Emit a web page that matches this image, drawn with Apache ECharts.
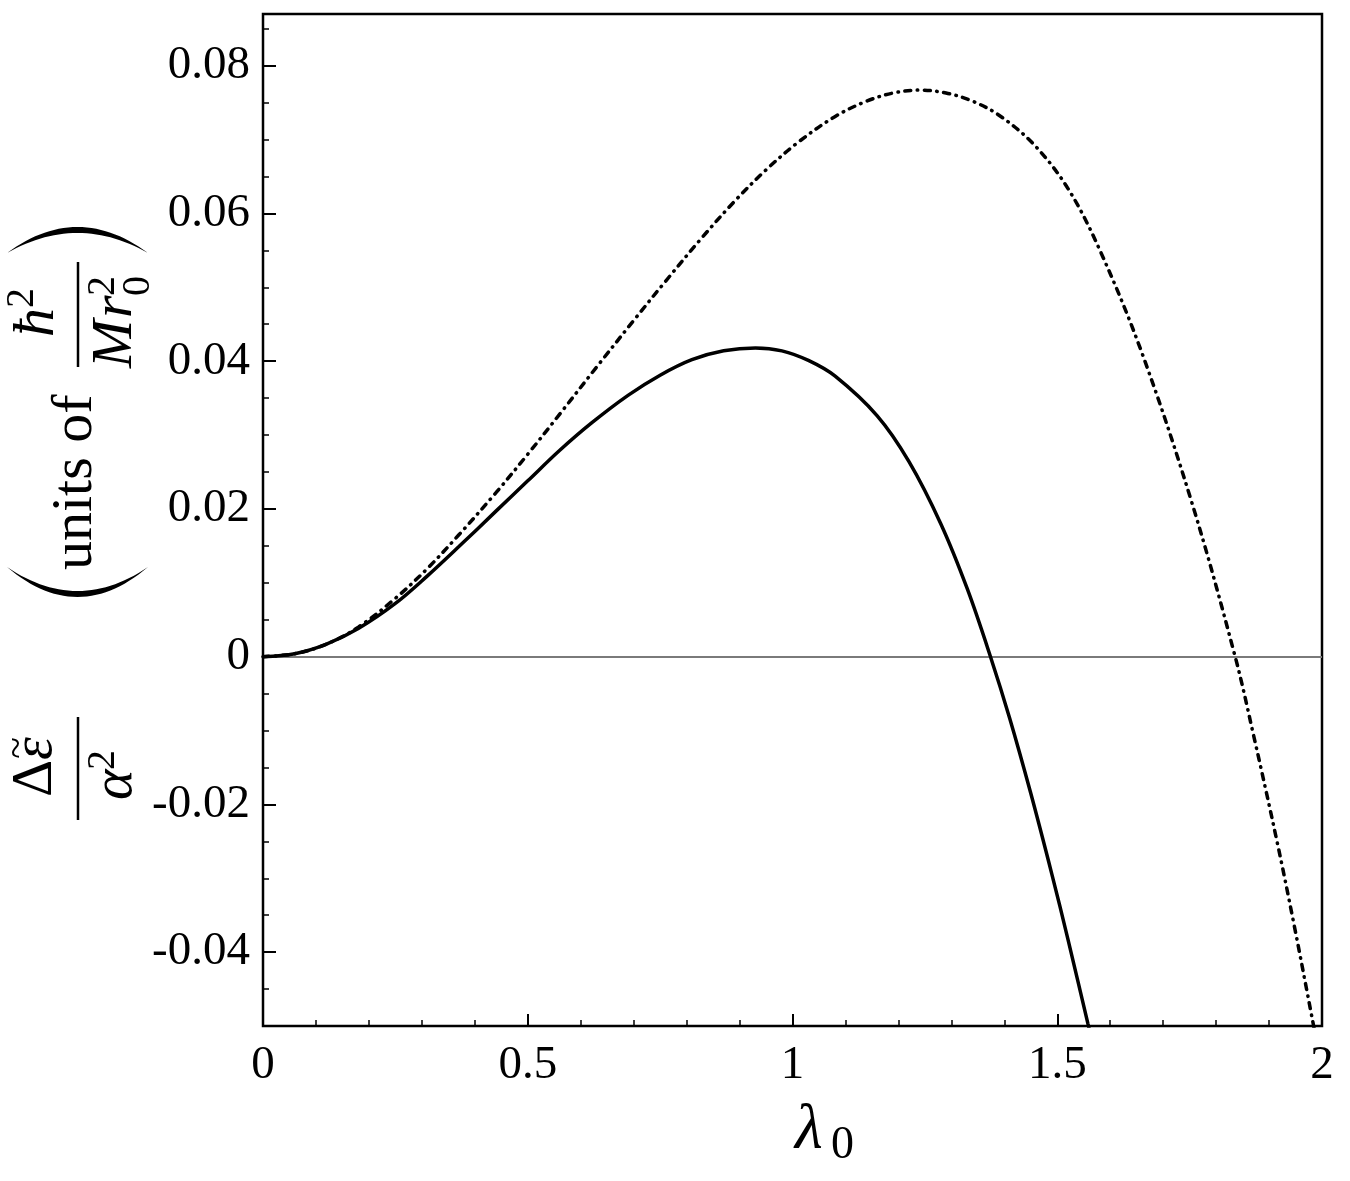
<!DOCTYPE html>
<html>
<head>
<meta charset="utf-8">
<script src="https://cdn.jsdelivr.net/npm/echarts@6/dist/echarts.min.js"></script>
<style>
  html, body { margin: 0; padding: 0; background: #fff; }
  #chart { width: 1350px; height: 1181px; }
</style>
</head>
<body>
<div id="chart"></div>
<script>
// ---- data ----
const lambdaSolid = [0, 0.06, 0.12, 0.18, 0.25, 0.31, 0.37, 0.44, 0.5, 0.56, 0.62, 0.69, 0.75, 0.81, 0.87, 0.93, 0.98, 1.03, 1.08, 1.16, 1.22, 1.28, 1.33, 1.373, 1.41, 1.45, 1.49, 1.52, 1.558, 1.57];
const valueSolid  = [0, 0.0004, 0.0017, 0.0038, 0.0072, 0.0109, 0.0149, 0.0197, 0.0238, 0.0279, 0.0316, 0.0354, 0.0381, 0.0402, 0.0414, 0.0418, 0.0414, 0.0401, 0.0380, 0.0326, 0.0264, 0.0180, 0.0092, 0.0002, -0.0083, -0.0185, -0.0295, -0.0382, -0.0497, -0.0533];

const lambdaDash = [0, 0.06, 0.12, 0.18, 0.25, 0.31, 0.37, 0.44, 0.5, 0.56, 0.63, 0.70, 0.76, 0.83, 0.89, 0.95, 1.01, 1.08, 1.14, 1.19, 1.24, 1.29, 1.34, 1.39, 1.455, 1.52, 1.58, 1.66, 1.754, 1.836, 1.87, 1.915, 1.947, 1.981, 1.99];
const valueDash  = [0, 0.0004, 0.0017, 0.0040, 0.0079, 0.0119, 0.0165, 0.0222, 0.0274, 0.0328, 0.0392, 0.0455, 0.0508, 0.0568, 0.0616, 0.0659, 0.0696, 0.0731, 0.0752, 0.0763, 0.0767, 0.0763, 0.0752, 0.0733, 0.0694, 0.0634, 0.0551, 0.0411, 0.0209, 0, -0.0104, -0.0250, -0.0362, -0.0488, -0.0522];

const xTickValues = [0, 0.5, 1, 1.5, 2];
const yTickValues = [-0.04, -0.02, 0, 0.02, 0.04, 0.06, 0.08];

// ---- chart ----
const chart = echarts.init(document.getElementById('chart'), null, { renderer: 'canvas' });
const SERIF = '"Liberation Serif", "Times New Roman", serif';

function rot(text, x, y, size, italic, align) {
  return {
    type: 'text', x: x, y: y, rotation: Math.PI / 2, silent: true,
    style: {
      text: text, fill: '#000', fontFamily: SERIF, fontSize: size,
      fontStyle: italic ? 'italic' : 'normal',
      align: align || 'left', verticalAlign: 'middle'
    }
  };
}
function paren(yEnd, yOuter, yInner, x0, x1) {
  // crescent shaped big parenthesis (rotated) built from two quadratic curves
  const pts = [];
  const n = 30;
  const cx = (x0 + x1) / 2;
  const cOut = 2 * yOuter - yEnd, cIn = 2 * yInner - yEnd;
  for (let i = 0; i <= n; i++) {
    const t = i / n;
    const x = (1 - t) * (1 - t) * x0 + 2 * t * (1 - t) * cx + t * t * x1;
    const y = (1 - t) * (1 - t) * yEnd + 2 * t * (1 - t) * cOut + t * t * yEnd;
    pts.push([x, y]);
  }
  for (let i = n; i >= 0; i--) {
    const t = i / n;
    const x = (1 - t) * (1 - t) * x0 + 2 * t * (1 - t) * cx + t * t * x1;
    const y = (1 - t) * (1 - t) * yEnd + 2 * t * (1 - t) * cIn + t * t * yEnd;
    pts.push([x, y]);
  }
  return { type: 'polygon', silent: true, shape: { points: pts }, style: { fill: '#000' } };
}

const option = {
  animation: false,
  backgroundColor: '#fff',
  grid: { left: 263, top: 14, right: 28, bottom: 155, show: true, borderColor: '#000', borderWidth: 2.5, backgroundColor: 'transparent' },
  xAxis: {
    type: 'value', min: 0, max: 2, interval: 0.5,
    axisLine: { show: false, onZero: false },
    axisTick: { show: true, inside: true, length: 12, lineStyle: { color: '#000', width: 2 } },
    minorTick: { show: true, splitNumber: 5, length: 6, lineStyle: { color: '#000', width: 1.5 } },
    splitLine: { show: false }, minorSplitLine: { show: false },
    axisLabel: { color: '#000', fontFamily: SERIF, fontSize: 47, margin: 16,
      formatter: v => String(v) }
  },
  yAxis: [
    {
      type: 'value', min: -0.05, max: 0.087, position: 'left',
      axisLine: { show: false, onZero: false },
      axisTick: { show: true, inside: true, length: 13, customValues: yTickValues, lineStyle: { color: '#000', width: 2 } },
      splitLine: { show: false },
      axisLabel: { color: '#000', fontFamily: SERIF, fontSize: 47, margin: 13, customValues: yTickValues,
        formatter: v => (Math.abs(v) < 1e-9 ? '0' : v.toFixed(2)) }
    },
    {
      type: 'value', min: -0.05, max: 0.087, interval: 0.005, position: 'left', offset: 0,
      axisLine: { show: false, onZero: false },
      axisTick: { show: true, inside: true, length: 6, lineStyle: { color: '#000', width: 1.5 } },
      axisLabel: { show: false }, splitLine: { show: false }
    }
  ],
  series: [
    {
      type: 'line', name: 'dashdot', yAxisIndex: 0,
      data: lambdaDash.map((x, i) => [x, valueDash[i]]),
      showSymbol: false, symbol: 'none', smooth: 0.35, z: 3,
      lineStyle: { color: '#000', width: 3.5, type: [6, 6.5, 0.5, 6.5], cap: 'round' },
      markLine: {
        silent: true, symbol: 'none', label: { show: false },
        lineStyle: { color: '#7a7a7a', width: 2.2, type: 'solid' },
        data: [{ yAxis: 0 }], z: 1
      }
    },
    {
      type: 'line', name: 'solid', yAxisIndex: 0,
      data: lambdaSolid.map((x, i) => [x, valueSolid[i]]),
      showSymbol: false, symbol: 'none', smooth: 0.35, z: 4,
      lineStyle: { color: '#000', width: 3.5, type: 'solid' }
    }
  ],
  graphic: [
    // x-axis title  λ0
    { type: 'text', x: 795, y: 1131, silent: true,
      style: { text: 'λ', fontFamily: SERIF, fontStyle: 'italic', fontSize: 64, fill: '#000', align: 'left', verticalAlign: 'middle' } },
    { type: 'text', x: 831, y: 1146, silent: true,
      style: { text: '0', fontFamily: SERIF, fontSize: 46, fill: '#000', align: 'left', verticalAlign: 'middle' } },

    // y-axis title (rotated):  Δε̃/α²  ( units of  ħ²/(M r₀²) )
    { type: 'line', silent: true, shape: { x1: 78, y1: 717, x2: 78, y2: 820 }, style: { stroke: '#000', lineWidth: 2.5 } },
    rot('Δ', 36, 797, 58, false),
    rot('ε', 36, 760, 58, true),
    rot('~', 18, 748, 40, false, 'center'),
    rot('α', 116, 800, 58, true),
    rot('2', 103, 770, 40, false),

    paren(567, 597, 591, 7, 148),
    paren(253, 227, 233, 7, 148),
    rot('units of', 76, 570, 58, false),

    { type: 'line', silent: true, shape: { x1: 78, y1: 262, x2: 78, y2: 367 }, style: { stroke: '#000', lineWidth: 2.5 } },
    rot('ħ', 38, 337, 58, true),
    rot('2', 22, 308, 40, false),
    rot('M', 116, 368, 58, true),
    rot('r', 116, 318, 58, true),
    rot('2', 103, 296, 40, false),
    rot('0', 138, 296, 40, false)
  ]
};
chart.setOption(option);
</script>
</body>
</html>
